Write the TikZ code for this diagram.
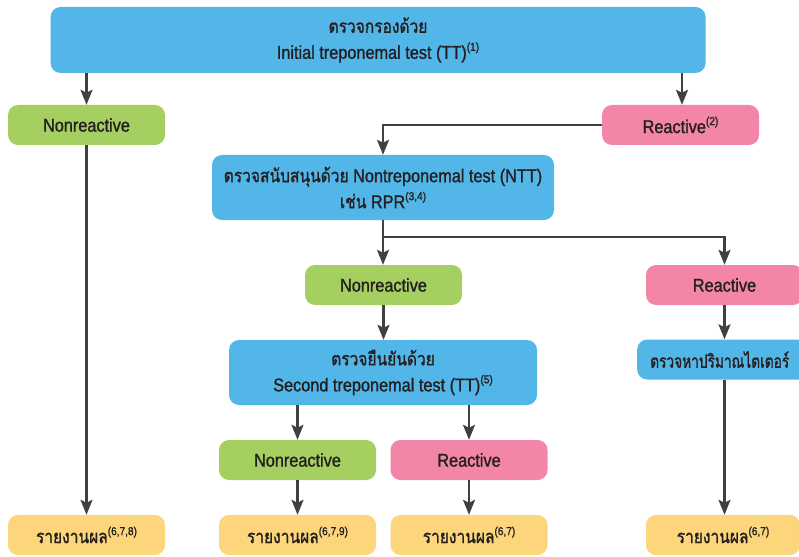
\documentclass[tikz,border=0pt]{standalone}
\usepackage{fontspec}
\setmainfont[FakeStretch=0.88,FakeBold=1.2]{Liberation Sans}
\newfontfamily\thai[Script=Thai,FakeStretch=0.84,FakeBold=1.2]{Loma}
\newfontfamily\thainarrow[Script=Thai,FakeStretch=0.74,FakeBold=1.2]{Loma}
\usetikzlibrary{arrows.meta}
\definecolor{boxblue}{HTML}{52B6E8}
\definecolor{boxgreen}{HTML}{A5CF60}
\definecolor{boxpink}{HTML}{F386A6}
\definecolor{boxyellow}{HTML}{FDD57A}
\definecolor{inkdark}{HTML}{231F20}
\definecolor{linegray}{HTML}{404040}
\newcommand{\refnote}[1]{\raisebox{8pt}{\fontsize{11.5}{11.5}\selectfont(#1)}}
\tikzset{
  box/.style={rounded corners=10pt, inner sep=0pt, text=inkdark, align=center,
    font=\fontsize{18.5}{26}\selectfont},
  small/.style={box, minimum width=157pt, minimum height=40pt},
  bluebox/.style={box, fill=boxblue},
  greenbox/.style={small, fill=boxgreen},
  pinkbox/.style={small, fill=boxpink},
  yellowbox/.style={small, fill=boxyellow},
  arr/.style={draw=linegray, line width=2.2pt, -{Stealth[length=15pt,width=12pt,inset=3pt]}}
}
\begin{document}
\begin{tikzpicture}[x=1pt,y=-1pt]
\useasboundingbox (0,0) rectangle (799,556);
\clip (0,0) rectangle (799,556);

% first screening test
\node[bluebox, minimum width=655pt, minimum height=66pt] (top) at (378,40)
  {{\thai ตรวจกรองด้วย}\\Initial treponemal test (TT)\refnote{1}};
\node[greenbox] (nr1) at (86.5,125) {Nonreactive};
\node[pinkbox] (r1) at (680.5,125) {Reactive\refnote{2}};

% nontreponemal test
\node[bluebox, minimum width=342pt, minimum height=65pt] (ntt) at (383,187.5)
  {{\thai ตรวจสนับสนุนด้วย} Nontreponemal test (NTT)\\{\thai เช่น} RPR\refnote{3,4}};
\node[greenbox] (nr2) at (383.5,285) {Nonreactive};
\node[pinkbox] (r2) at (724.5,285) {Reactive};
\node[bluebox, minimum height=40pt, minimum width=200pt, text width=174pt, align=left,
  inner xsep=13pt, anchor=west] (titer) at (637,359.5) {\thainarrow ตรวจหาปริมาณไตเตอร์};

% second treponemal test
\node[bluebox, minimum width=308pt, minimum height=65pt] (tt2) at (383,372.5)
  {{\thai ตรวจยืนยันด้วย}\\Second treponemal test (TT)\refnote{5}};
\node[greenbox] (nr3) at (297.5,460) {Nonreactive};
\node[pinkbox] (r3) at (469,460) {Reactive};

% reports
\node[yellowbox] (rep1) at (86.5,535) {{\thai รายงานผล}\refnote{6,7,8}};
\node[yellowbox] (rep2) at (297.5,535) {{\thai รายงานผล}\refnote{6,7,9}};
\node[yellowbox] (rep3) at (469,535) {{\thai รายงานผล}\refnote{6,7}};
\node[yellowbox, minimum width=154pt] (rep4) at (723,535) {{\thai รายงานผล}\refnote{6,7}};

% connectors
\draw[arr] (top.south -| nr1.north) -- (nr1.north);
\draw[arr] (top.south -| 682,0) -- (682,0 |- r1.north);
\draw[arr] (nr1.south) -- (rep1.north);
\draw[arr] (r1.west) -| (ntt.north);
\draw[arr] (ntt.south) -- (ntt.south |- nr2.north);
\coordinate (split) at (383,237);
\draw[arr] (split) -| (r2.north);
\draw[arr] (nr2.south) -- (nr2.south |- tt2.north);
\draw[arr] (r2.south) -- (r2.south |- titer.north);
\draw[arr] (r2.south |- titer.south) -- (r2.south |- rep4.north);
\draw[arr] (tt2.south -| nr3.north) -- (nr3.north);
\draw[arr] (tt2.south -| r3.north) -- (r3.north);
\draw[arr] (nr3.south) -- (rep2.north);
\draw[arr] (r3.south) -- (rep3.north);
\end{tikzpicture}
\end{document}
